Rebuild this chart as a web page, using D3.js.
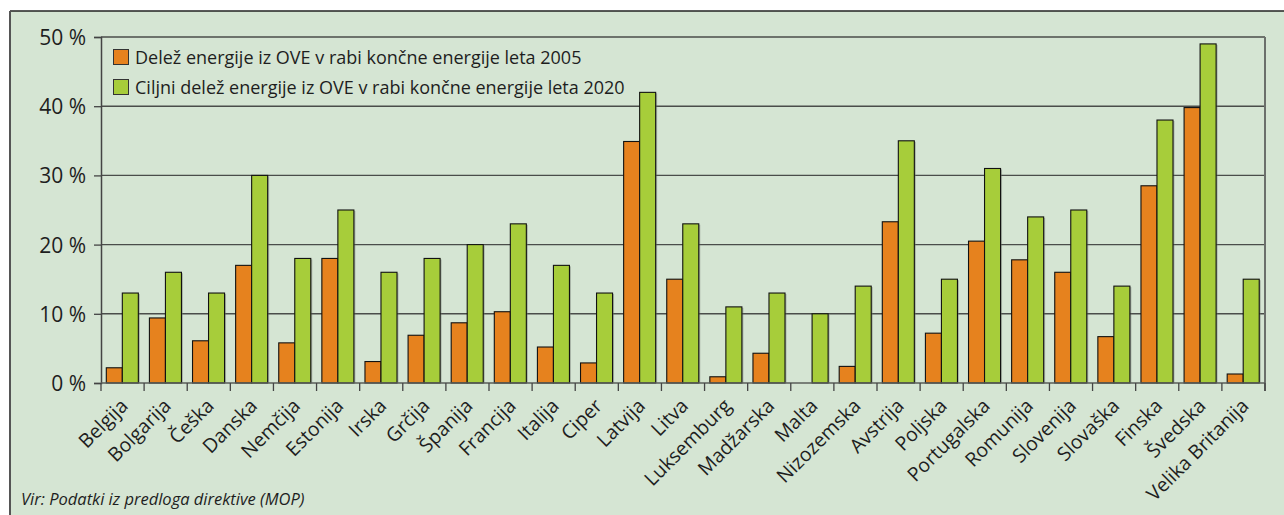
<!DOCTYPE html>
<html>
<head>
<meta charset="utf-8">
<script src="https://cdn.jsdelivr.net/npm/d3@7"></script>
<style>
  html, body { margin: 0; padding: 0; background: #ffffff; }
  svg { display: block; }
  text { font-family: "Open Sans", "Noto Sans", sans-serif; fill: #1e1e1e; }
</style>
</head>
<body>
<svg id="chart" width="1284" height="515"></svg>
<script>
const countries = ["Belgija","Bolgarija","Češka","Danska","Nemčija","Estonija","Irska","Grčija","Španija","Francija","Italija","Ciper","Latvija","Litva","Luksemburg","Madžarska","Malta","Nizozemska","Avstrija","Poljska","Portugalska","Romunija","Slovenija","Slovaška","Finska","Švedska","Velika Britanija"];
const share2005 = [2.2,9.4,6.1,17.0,5.8,18.0,3.1,6.9,8.7,10.3,5.2,2.9,34.9,15.0,0.9,4.3,0,2.4,23.3,7.2,20.5,17.8,16.0,6.7,28.5,39.8,1.3];
const target2020 = [13,16,13,30,18,25,16,18,20,23,17,13,42,23,11,13,10,14,35,15,31,24,25,14,38,49,15];
const seriesNames = ["Delež energije iz OVE v rabi končne energije leta 2005","Ciljni delež energije iz OVE v rabi končne energije leta 2020"];
const seriesColors = ["#e6821e","#a7cd3a"];
const yTicks = [0,10,20,30,40,50];
const sourceNote = "Vir: Podatki iz predloga direktive (MOP)";

const svg = d3.select("#chart");
const W = 1284, H = 515;
const plot = {left: 101, right: 1265, top: 37, bottom: 383};

// panel
svg.append("rect").attr("x", 10).attr("y", 11).attr("width", W + 10).attr("height", H + 10)
  .attr("fill", "#d5e5d3");
svg.append("line").attr("x1", 10).attr("x2", W).attr("y1", 11).attr("y2", 11)
  .attr("stroke", "#222").attr("stroke-width", 1.5);
svg.append("line").attr("x1", 10).attr("x2", 10).attr("y1", 11).attr("y2", H)
  .attr("stroke", "#555").attr("stroke-width", 2);

const x0 = d3.scaleBand().domain(countries).range([plot.left, plot.right]).padding(0);
const bw = x0.bandwidth();
const x1 = d3.scaleBand().domain([0,1]).range([bw * 0.123, bw * 0.866]).padding(0);
const y = d3.scaleLinear().domain([0, 50]).range([plot.bottom, plot.top]);

// gridlines
svg.append("g").selectAll("line").data(yTicks.filter(t => t > 0)).join("line")
  .attr("x1", plot.left).attr("x2", plot.right)
  .attr("y1", d => y(d)).attr("y2", d => y(d))
  .attr("stroke", "#4a4d4a").attr("stroke-width", 1.4);

// right frame
svg.append("line").attr("x1", plot.right).attr("x2", plot.right)
  .attr("y1", plot.top).attr("y2", plot.bottom + 8)
  .attr("stroke", "#6b6f6b").attr("stroke-width", 2);

// y axis
const yAxis = d3.axisLeft(y).tickValues(yTicks).tickSize(7).tickPadding(8)
  .tickFormat(d => d + " %");
const gy = svg.append("g").attr("transform", `translate(${plot.left},0)`).call(yAxis);
gy.select(".domain").attr("stroke", "#444").attr("stroke-width", 1.5);
gy.selectAll(".tick line").attr("stroke", "#444").attr("stroke-width", 1.3);
gy.selectAll(".tick text").style("font-size", "21px").style("font-family", "'Open Sans', sans-serif")
  .attr("fill", "#1e1e1e").attr("dy", "0.36em");

// bars
const data = countries.map((c, i) => ({c, vals: [share2005[i], target2020[i]]}));
const groups = svg.append("g").selectAll("g").data(data).join("g")
  .attr("transform", d => `translate(${x0(d.c)},0)`);
// shadows
groups.selectAll("rect.sh").data(d => d.vals.map((v, k) => ({v, k}))).join("rect")
  .attr("class", "sh")
  .attr("x", d => x1(d.k) + 1.5).attr("y", d => y(d.v) + 1)
  .attr("width", x1.bandwidth()).attr("height", d => Math.max(0, y(0) - y(d.v) - 1))
  .attr("fill", "#6f756f").attr("opacity", d => d.v > 0 ? 0.45 : 0);
groups.selectAll("rect.bar").data(d => d.vals.map((v, k) => ({v, k}))).join("rect")
  .attr("class", "bar")
  .attr("x", d => x1(d.k)).attr("y", d => y(d.v))
  .attr("width", x1.bandwidth()).attr("height", d => y(0) - y(d.v))
  .attr("fill", d => seriesColors[d.k])
  .attr("stroke", d => d.v > 0 ? "#111" : "none").attr("stroke-width", 1.1);

// x axis line and ticks at category boundaries
svg.append("line").attr("x1", plot.left).attr("x2", plot.right)
  .attr("y1", plot.bottom).attr("y2", plot.bottom)
  .attr("stroke", "#5a5e5a").attr("stroke-width", 1.6);
const bounds = countries.map(c => x0(c)).concat([plot.right]);
svg.append("g").selectAll("line").data(bounds).join("line")
  .attr("x1", d => d).attr("x2", d => d)
  .attr("y1", plot.bottom).attr("y2", plot.bottom + 8)
  .attr("stroke", "#444").attr("stroke-width", 1.3);

// category labels
svg.append("g").selectAll("text").data(countries).join("text")
  .attr("transform", d => `translate(${x0(d) + bw / 2 + 6.5},${plot.bottom + 24}) rotate(-45)`)
  .attr("text-anchor", "end")
  .style("font-size", "19.5px")
  .text(d => d);

// legend
const lg = svg.append("g");
seriesNames.forEach((name, i) => {
  const yy = 49.5 + i * 30;
  lg.append("rect").attr("x", 113.5).attr("y", yy).attr("width", 15).attr("height", 15)
    .attr("fill", seriesColors[i]).attr("stroke", "#333").attr("stroke-width", 1);
  lg.append("text").attr("x", 135).attr("y", yy + 14.5).style("font-size", "18px").text(name);
});

// source note
svg.append("text").attr("x", 21).attr("y", 505).style("font-size", "16.5px")
  .style("font-style", "italic").text(sourceNote);
</script>
</body>
</html>
